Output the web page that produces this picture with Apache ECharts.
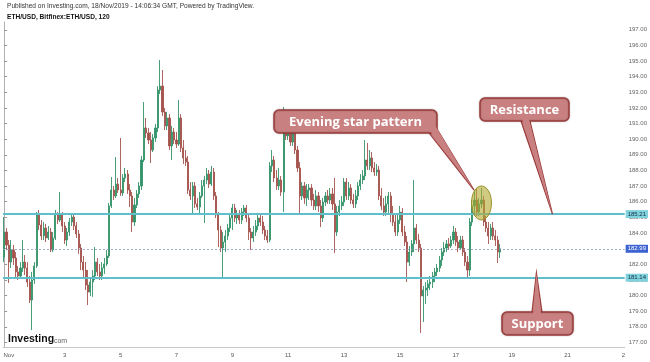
<!DOCTYPE html>
<html><head><meta charset="utf-8">
<script src="https://cdn.jsdelivr.net/npm/echarts@6/dist/echarts.min.js"></script>
<style>html,body{margin:0;padding:0;background:#fff}#c{width:650px;height:362px}</style>
</head><body><div id="c"></div>
<script>
// 2-hour candles, ETH/USD (Bitfinex), Oct 31 20:00 -> Nov 18 14:00
const opens = [
182.46,184.06,183.23,182.14,182.91,182.40,181.51,181.25,181.76,182.14,
181.76,180.86,179.71,180.99,181.89,185.21,184.51,183.81,184.32,183.68,
184.06,182.91,183.68,185.21,184.83,185.15,184.45,183.55,184.06,184.70,
185.02,184.45,183.94,183.04,182.14,181.63,180.67,180.22,180.86,181.25,
182.14,181.51,181.25,181.76,182.02,182.53,185.73,186.75,186.37,187.13,
186.75,186.56,187.52,187.77,186.75,186.37,184.70,185.79,186.50,187.01,
188.67,190.72,190.40,189.95,189.31,190.08,190.72,193.15,193.40,191.74,
190.85,191.36,189.57,190.46,189.95,189.69,191.36,189.44,188.80,188.54,
186.75,186.37,187.01,185.86,185.66,186.37,187.01,187.39,187.77,187.13,
187.90,186.37,185.15,184.19,183.04,183.42,183.81,184.32,184.96,185.60,
184.96,185.21,184.83,185.34,185.60,184.96,184.06,183.68,184.06,184.45,
184.96,184.70,184.19,183.81,183.55,188.29,188.67,187.52,187.01,187.39,
186.62,190.59,190.21,190.72,189.82,190.46,189.31,188.16,186.37,187.01,
186.24,186.75,186.88,186.11,185.73,186.37,185.73,184.96,185.98,186.37,
186.11,186.50,185.86,184.06,185.34,185.73,185.98,187.26,186.37,186.88,
186.11,185.86,186.37,187.01,187.39,187.65,188.67,188.29,188.80,188.16,
187.90,188.03,186.37,185.73,185.34,185.86,186.37,185.21,184.70,184.06,
184.83,185.34,184.06,183.42,182.14,182.78,183.30,184.32,183.55,183.04,
179.97,180.35,180.48,180.74,180.86,181.25,181.51,181.76,182.27,182.78,
183.04,183.30,183.17,183.55,184.06,183.42,183.04,183.55,182.78,182.14,
181.63,184.70,185.73,186.11,185.34,185.86,186.11,184.70,184.32,183.81,
184.32,183.81,183.55,182.78];
const closes = [
184.06,183.23,182.14,182.91,182.40,181.51,181.25,181.76,182.14,181.76,
180.86,179.71,180.99,181.89,185.21,184.51,183.81,184.32,183.68,184.06,
182.91,183.68,185.21,184.83,185.15,184.45,183.55,184.06,184.70,185.02,
184.45,183.94,183.04,182.14,181.63,180.67,180.22,180.86,181.25,182.14,
181.51,181.25,181.76,182.02,182.53,185.73,186.75,186.37,187.13,186.75,
186.56,187.52,187.77,186.75,186.37,184.70,185.79,186.50,187.01,188.67,
190.72,190.40,189.95,189.31,190.08,190.72,193.15,193.40,191.74,190.85,
191.36,189.57,190.46,189.95,189.69,191.36,189.44,188.80,188.54,186.75,
186.37,187.01,185.86,185.66,186.37,187.01,187.39,187.77,187.13,187.90,
186.37,185.15,184.19,183.04,183.42,183.81,184.32,184.96,185.60,184.96,
185.21,184.83,185.34,185.60,184.96,184.06,183.68,184.06,184.45,184.96,
184.70,184.19,183.81,183.55,188.29,188.67,187.52,187.01,187.39,186.62,
190.59,190.21,190.72,189.82,190.46,189.31,188.16,186.37,187.01,186.24,
186.75,186.88,186.11,185.73,186.37,185.73,184.96,185.98,186.37,186.11,
186.50,185.86,184.06,185.34,185.73,185.98,187.26,186.37,186.88,186.11,
185.86,186.37,187.01,187.39,187.65,188.67,188.29,188.80,188.16,187.90,
188.03,186.37,185.73,185.34,185.86,186.37,185.21,184.70,184.06,184.83,
185.34,184.06,183.42,182.14,182.78,183.30,184.32,183.55,183.04,179.97,
180.35,180.48,180.74,180.86,181.25,181.51,181.76,182.27,182.78,183.04,
183.30,183.17,183.55,184.06,183.42,183.04,183.55,182.78,182.14,181.63,
184.70,185.73,186.11,185.34,185.86,186.11,184.70,184.32,183.81,184.32,
183.81,183.55,182.78,182.99];
const lows = [
182.14,182.91,180.80,181.76,181.95,181.18,180.99,181.06,181.51,181.31,
180.55,179.52,177.79,180.74,181.76,184.19,183.55,183.55,183.42,183.55,
182.78,182.78,183.55,184.58,184.70,184.06,183.30,183.17,183.81,184.45,
184.19,183.68,182.66,181.63,181.12,180.35,179.39,179.97,179.91,180.99,
181.25,180.99,180.99,181.38,181.89,182.40,185.60,186.11,186.24,186.56,
186.37,186.37,187.26,186.50,185.66,184.06,184.45,185.60,186.24,186.75,
188.54,190.08,189.69,188.48,189.18,189.82,190.46,192.89,191.49,190.59,
190.59,189.31,188.67,189.69,189.44,189.57,189.18,188.41,188.29,186.50,
186.11,185.15,185.60,185.47,185.21,186.24,184.64,187.13,186.88,187.01,
186.11,184.96,183.10,182.78,181.18,182.78,183.55,184.06,184.19,184.70,
184.58,184.58,184.58,185.09,184.70,183.55,182.91,183.42,183.81,184.19,
184.45,183.94,183.55,183.36,183.42,187.90,187.26,186.75,186.75,186.37,
185.34,189.95,189.95,189.57,189.57,189.05,187.90,185.28,186.11,185.86,
185.73,186.11,185.73,185.47,185.47,185.34,184.38,184.70,185.73,185.86,
185.86,185.47,182.72,183.81,185.09,185.47,185.73,186.11,186.11,185.86,
185.60,185.60,186.11,186.75,187.13,187.39,188.03,188.03,187.90,187.65,
187.65,186.11,185.47,185.09,185.09,185.28,184.70,184.45,183.81,183.81,
184.58,183.81,183.17,180.86,181.89,182.53,182.78,183.30,182.78,177.60,
178.31,179.46,179.97,180.35,180.48,180.86,181.25,181.51,181.89,182.53,
182.78,182.91,183.04,183.30,183.17,182.78,182.91,182.53,181.89,181.18,
181.25,184.45,185.21,185.09,185.09,185.60,184.45,184.06,183.30,183.55,
183.55,183.17,182.08,182.40];
const highs = [
185.02,184.32,183.55,183.55,183.23,182.78,181.89,182.14,183.55,182.59,
182.14,181.25,181.51,182.14,185.34,185.47,184.83,184.70,184.58,184.45,
184.32,184.06,185.47,185.34,186.62,185.34,184.70,184.32,184.96,185.28,
185.21,184.70,184.19,183.30,182.53,182.14,181.63,181.12,181.63,183.10,
182.40,182.02,182.14,182.40,182.91,185.92,187.58,187.01,188.86,187.52,
190.08,187.77,188.16,188.03,187.13,186.62,186.24,186.75,187.26,188.93,
192.38,191.36,190.72,190.46,190.33,190.97,193.40,195.07,194.43,192.00,
191.74,191.61,190.85,190.72,190.46,192.51,191.61,189.95,189.31,188.93,
187.26,187.26,187.26,186.24,186.62,187.39,187.65,188.16,188.03,188.29,
188.16,186.62,185.34,184.45,184.06,184.19,184.58,185.21,185.86,185.86,
185.47,185.47,185.60,185.79,185.79,185.21,184.32,184.45,184.83,185.21,
185.21,185.09,184.45,184.19,188.54,189.31,188.93,188.03,188.16,187.65,
192.06,191.10,191.36,190.97,190.85,190.72,189.57,188.54,187.26,187.26,
187.13,187.13,187.13,186.50,186.75,186.62,186.11,186.24,186.62,186.75,
186.88,186.88,187.52,185.73,186.11,186.37,187.52,187.52,187.26,187.13,
186.50,186.75,187.26,187.77,188.03,189.95,189.76,189.31,189.18,188.54,
188.41,188.29,186.88,186.24,186.37,186.62,186.62,185.73,185.21,185.21,
185.73,185.60,184.45,183.81,183.17,183.55,187.39,184.58,183.94,183.30,
180.61,180.86,180.99,181.25,181.51,181.76,182.02,182.53,183.04,183.42,
183.55,183.68,183.81,184.45,184.32,183.81,183.81,183.81,183.04,182.53,
184.96,186.11,186.75,186.88,186.24,186.88,186.37,185.09,184.70,184.58,
184.70,184.19,183.81,183.30];

// x axis: candle slots (2h each), day labels every 2 days
const xSlotMin = -0.5, xSlotMax = 266.5;
const xTickPositions = [2, 26, 50, 74, 98, 122, 146, 170, 194, 218, 242, 266];
const xTickLabels = ['Nov', '3', '5', '7', '9', '11', '13', '15', '17', '19', '21', '2'];
const priceTicks = [177,178,179,180,181,182,183,184,185,186,187,188,189,190,191,192,193,194,195,196,197];
const yMin = 176.706, yMax = 197.499;
const resistance = 185.21, support = 181.14, lastPrice = 182.99;

// annotation anchors in data units [slot, price]
const starCenter = [205, 185.92];
const starTip = [201.8, 186.75];
const resistanceTip = [235.5, 185.21];
const supportTip = [228.6, 181.45];

const candleData = opens.map((o, i) => [i, o, closes[i], lows[i], highs[i]]);

const chart = echarts.init(document.getElementById('c'), null, {renderer: 'canvas'});
const axisFont = 'Liberation Sans, Arial, sans-serif';

chart.setOption({
  animation: false,
  backgroundColor: '#ffffff',
  grid: {left: 3, right: 25, top: 22, bottom: 15, containLabel: false},
  xAxis: {
    type: 'value', min: xSlotMin, max: xSlotMax,
    axisLine: {show: true, lineStyle: {color: '#c8c8c8', width: 1}},
    axisTick: {show: false},
    splitLine: {show: false},
    axisLabel: {
      show: true, customValues: xTickPositions, margin: 5,
      fontSize: 6, color: '#555', fontFamily: axisFont,
      formatter: v => { const k = xTickPositions.indexOf(Math.round(v)); return k >= 0 ? xTickLabels[k] : ''; }
    }
  },
  yAxis: {
    type: 'value', position: 'right', min: yMin, max: yMax, scale: true,
    axisLine: {show: true, lineStyle: {color: '#b0b0b0', width: 1}},
    axisTick: {show: true, customValues: priceTicks, length: 3, inside: false, lineStyle: {color: '#999'}},
    splitLine: {show: false},
    axisLabel: {
      show: true, customValues: priceTicks, margin: 4,
      fontSize: 6, color: '#666', fontFamily: axisFont,
      formatter: v => v.toFixed(2)
    }
  },
  series: [{
    type: 'candlestick',
    data: candleData,
    barWidth: 1.6,
    itemStyle: {color: '#34936a', color0: '#a4534d', borderColor: '#34936a', borderColor0: '#a4534d', borderWidth: 0.9},
    markLine: {
      silent: true, symbol: ['none', 'none'], animation: false,
      data: [
        {yAxis: resistance, lineStyle: {color: '#5fbfcb', width: 2, type: 'solid'},
         label: {show: true, position: 'end', distance: 1, formatter: resistance.toFixed(2), fontSize: 6, color: '#12304a',
                 backgroundColor: '#80d2dc', padding: [1, 2], fontFamily: axisFont}},
        {yAxis: lastPrice, lineStyle: {color: '#8a97c0', width: 0.8, type: [2, 2]},
         label: {show: true, position: 'end', distance: 1, formatter: lastPrice.toFixed(2), fontSize: 6, color: '#ffffff',
                 backgroundColor: '#3d63d3', padding: [1, 2], fontFamily: axisFont}},
        {yAxis: support, lineStyle: {color: '#5fbfcb', width: 2, type: 'solid'},
         label: {show: true, position: 'end', distance: 1, formatter: support.toFixed(2), fontSize: 6, color: '#12304a',
                 backgroundColor: '#80d2dc', padding: [1, 2], fontFamily: axisFont}}
      ]
    }
  }]
});

const px = p => chart.convertToPixel({gridIndex: 0}, p);
const sc = px(starCenter), st = px(starTip), rt = px(resistanceTip), sp = px(supportTip);
const boxFill = '#c98080', boxStroke = '#9c3c3c';
const labelFont = 'bold 13px "Open Sans", "DejaVu Sans", sans-serif';

function callout(box, base1, base2, tip, text, dir) {
  return [
    {type: 'polygon', z: 100, shape: {points: [base1, tip, base2]}, style: {fill: boxFill, stroke: boxStroke, lineWidth: 1.2}},
    {type: 'rect', z: 101, shape: {x: box[0], y: box[1], width: box[2], height: box[3], r: 5},
     style: {fill: boxFill, stroke: boxStroke, lineWidth: 1.5, shadowBlur: 2, shadowColor: 'rgba(0,0,0,0.25)'}},
    {type: 'polygon', z: 102, shape: {points: [[base1[0] + 1, base1[1] - 2 * dir], tip, [base2[0] - 1, base2[1] - 2 * dir]]}, style: {fill: boxFill}},
    {type: 'text', z: 103, style: {text: text, x: box[0] + box[2] / 2, y: box[1] + box[3] / 2 + 0.5,
      align: 'center', verticalAlign: 'middle', font: labelFont, fill: '#ffffff'}}
  ];
}

const graphics = [
  {type: 'text', z: 50, style: {text: 'Published on Investing.com, 18/Nov/2019 - 14:06:34 GMT, Powered by TradingView.',
    x: 7, y: 6, verticalAlign: 'middle', font: '6.6px "Liberation Sans", Arial, sans-serif', fill: '#333'}},
  {type: 'text', z: 50, style: {text: 'ETH/USD, Bitfinex:ETH/USD, 120',
    x: 7, y: 17, verticalAlign: 'middle', font: 'bold 6.6px "Liberation Sans", Arial, sans-serif', fill: '#111'}},
  {type: 'text', z: 50, style: {text: 'Investing', x: 8, y: 339, verticalAlign: 'middle',
    font: 'bold 10.5px "Liberation Sans", Arial, sans-serif', fill: '#111'}},
  {type: 'text', z: 50, style: {text: '.com', x: 52, y: 341, verticalAlign: 'middle',
    font: '7px "Liberation Sans", Arial, sans-serif', fill: '#666'}},
  {type: 'ellipse', z: 90, shape: {cx: sc[0], cy: sc[1], rx: 10, ry: 17},
   style: {fill: 'rgba(178,168,45,0.6)', stroke: '#98902a', lineWidth: 1}}
]
.concat(callout([274, 110, 163, 23], [429, 133], [437, 129], st, 'Evening star pattern', 1))
.concat(callout([480, 98, 89, 23], [521, 121], [530, 121], rt, 'Resistance', 1))
.concat(callout([502, 312, 71, 23], [532, 312], [542, 312], sp, 'Support', -1));

chart.setOption({graphic: graphics});
</script></body></html>
